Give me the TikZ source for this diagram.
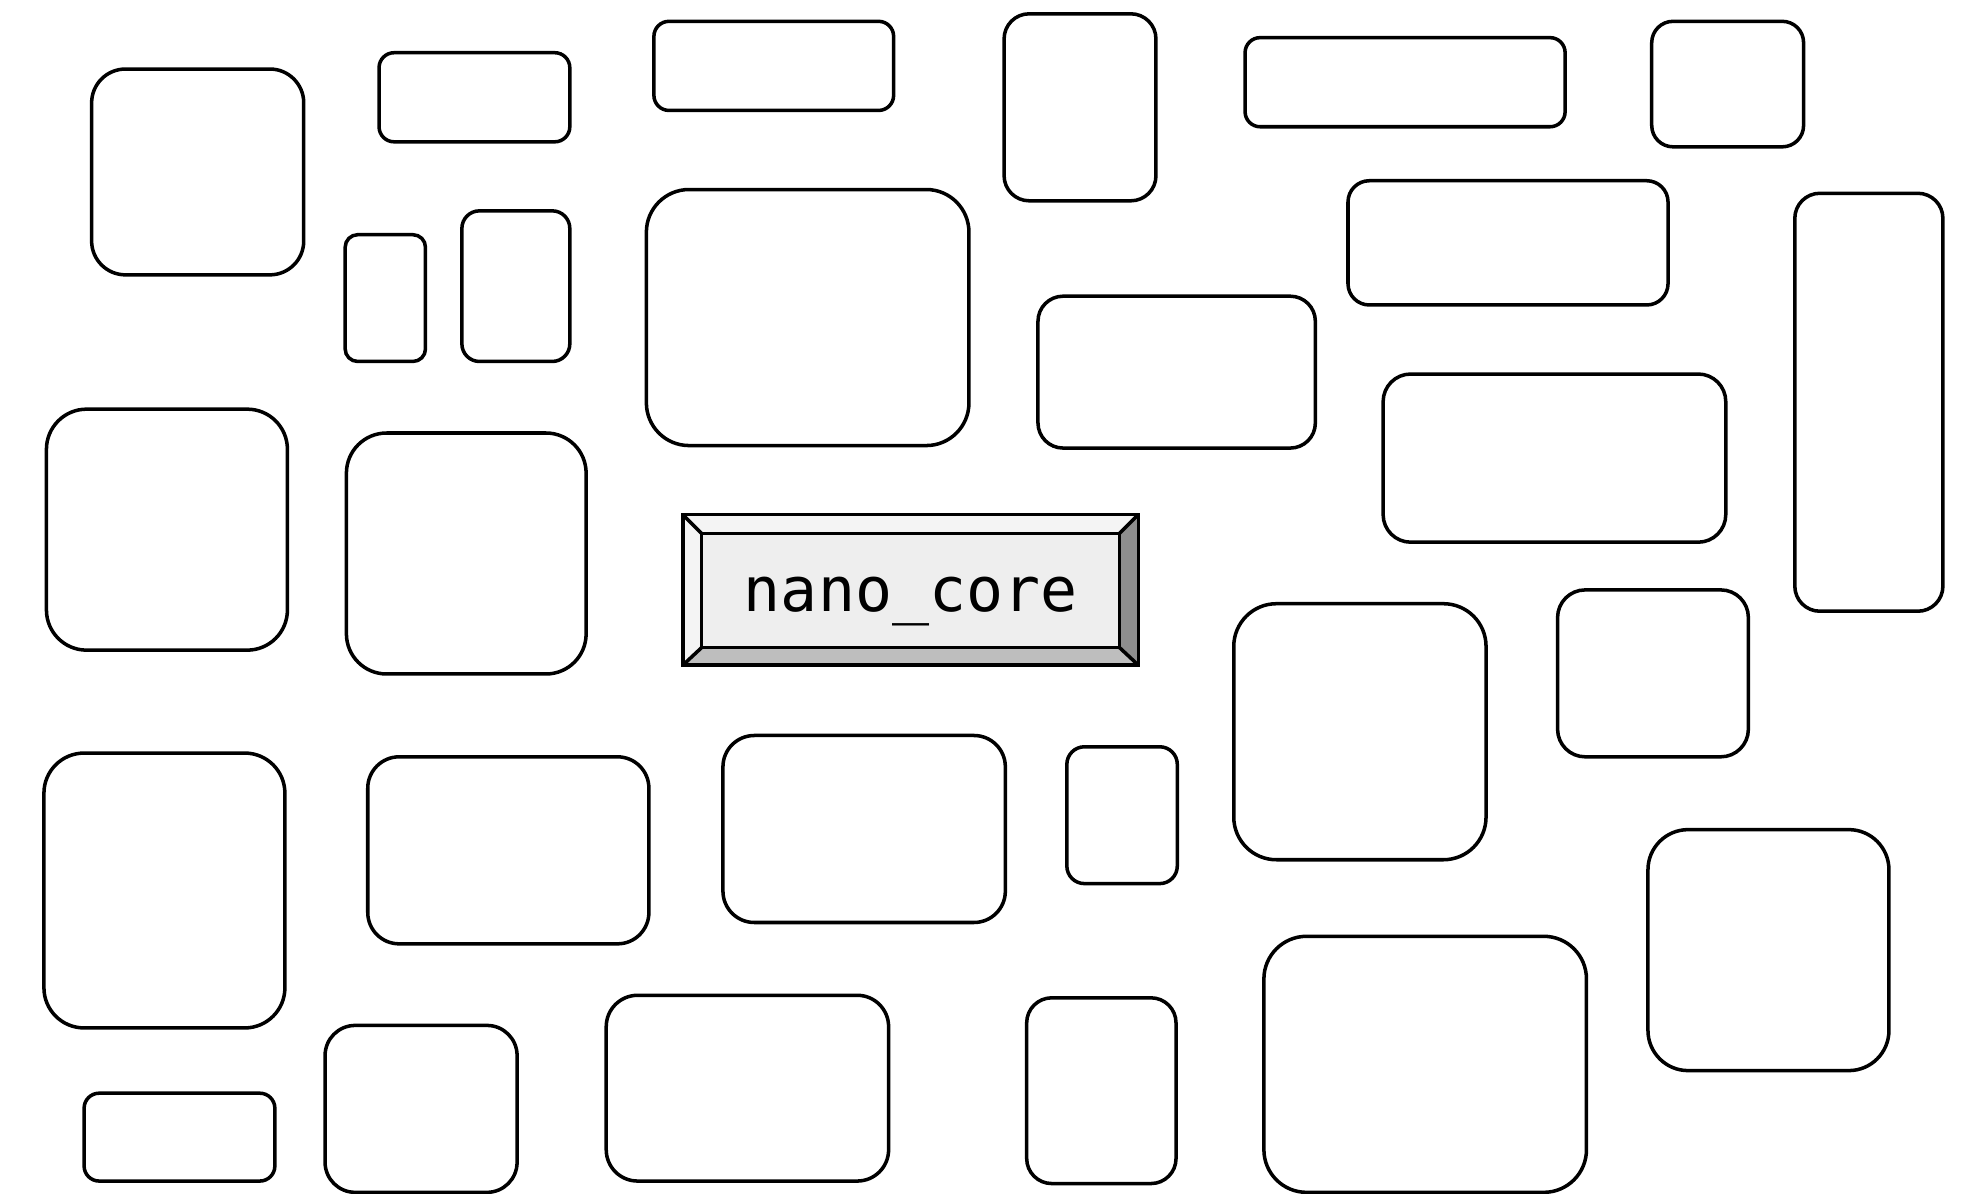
\documentclass[tikz,border=0pt]{standalone}
\usepackage{fontspec}
\newfontfamily\monofont{DejaVu Sans Mono}
\definecolor{bvtop}{HTML}{F4F4F4}
\definecolor{bvleft}{HTML}{F4F4F4}
\definecolor{bvright}{HTML}{8E8E8E}
\definecolor{bvbottom}{HTML}{BEBEBE}
\definecolor{bvface}{HTML}{EEEEEE}
\tikzset{
  box/.style={draw=black, line width=1.4pt, fill=white, inner sep=0pt, outer sep=0pt, rectangle},
  bevline/.style={draw=black, line width=1.4pt, line join=miter},
  coretext/.style={font=\monofont\fontsize{24.5pt}{28pt}\selectfont, inner sep=0pt, text=black}
}
\begin{document}
\begin{tikzpicture}[x=0.5pt, y=-0.5pt]
\useasboundingbox (0,0) rectangle (1568,951);
\foreach \n/\a/\b/\c/\d/\r in {
  1/73/55/242/219/13.5,
  2/302/42/454/113/6,
  3/521/17/712/88/6,
  4/800/11/921/160/10,
  5/992/30/1247/101/6,
  6/1316/17/1437/117/8.5,
  7/275/187/339/288/5,
  8/368/168/454/288/7,
  9/515/151/772/355/17,
  10/1074/144/1329/243/8.5,
  11/1430/154/1548/487/10,
  12/827/236/1048/357/10,
  13/1102/298/1375/432/11,
  14/37/326/229/518/16,
  15/276/345/467/537/16,
  17/983/481/1184/685/17,
  18/1241/470/1393/603/11,
  19/35/600/227/819/16,
  20/293/603/517/752/12.5,
  21/576/586/801/735/12.5,
  22/850/595/938/704/7,
  23/1313/661/1505/853/16,
  24/1007/746/1264/950/17,
  25/67/871/219/941/6,
  26/259/817/412/950/12,
  27/483/793/708/941/12.5,
  28/818/795/937/943/10}
{
  \node[box, rounded corners=\r pt, minimum width={(\c-\a)*0.5pt}, minimum height={(\d-\b)*0.5pt}]
    (b\n) at ({(\a+\c)/2},{(\b+\d)/2}) {};
}
% central bevelled node
\coordinate (o1) at (544,410);
\coordinate (o2) at (907,410);
\coordinate (o3) at (907,530);
\coordinate (o4) at (544,530);
\coordinate (i1) at (559,425);
\coordinate (i2) at (892,425);
\coordinate (i3) at (892,516);
\coordinate (i4) at (559,516);
\fill[bvtop] (o1) -- (o2) -- (i2) -- (i1) -- cycle;
\fill[bvright] (o2) -- (o3) -- (i3) -- (i2) -- cycle;
\fill[bvbottom] (o3) -- (o4) -- (i4) -- (i3) -- cycle;
\fill[bvleft] (o4) -- (o1) -- (i1) -- (i4) -- cycle;
\fill[bvface] (i1) rectangle (i3);
\draw[bevline] (o1) rectangle (o3);
\draw[bevline] (i1) rectangle (i3);
\draw[bevline] (o1) -- (i1) (o2) -- (i2) (o3) -- (i3) (o4) -- (i4);
\node[coretext] (core) at (725.5,479) {nano\_core};
\end{tikzpicture}
\end{document}
